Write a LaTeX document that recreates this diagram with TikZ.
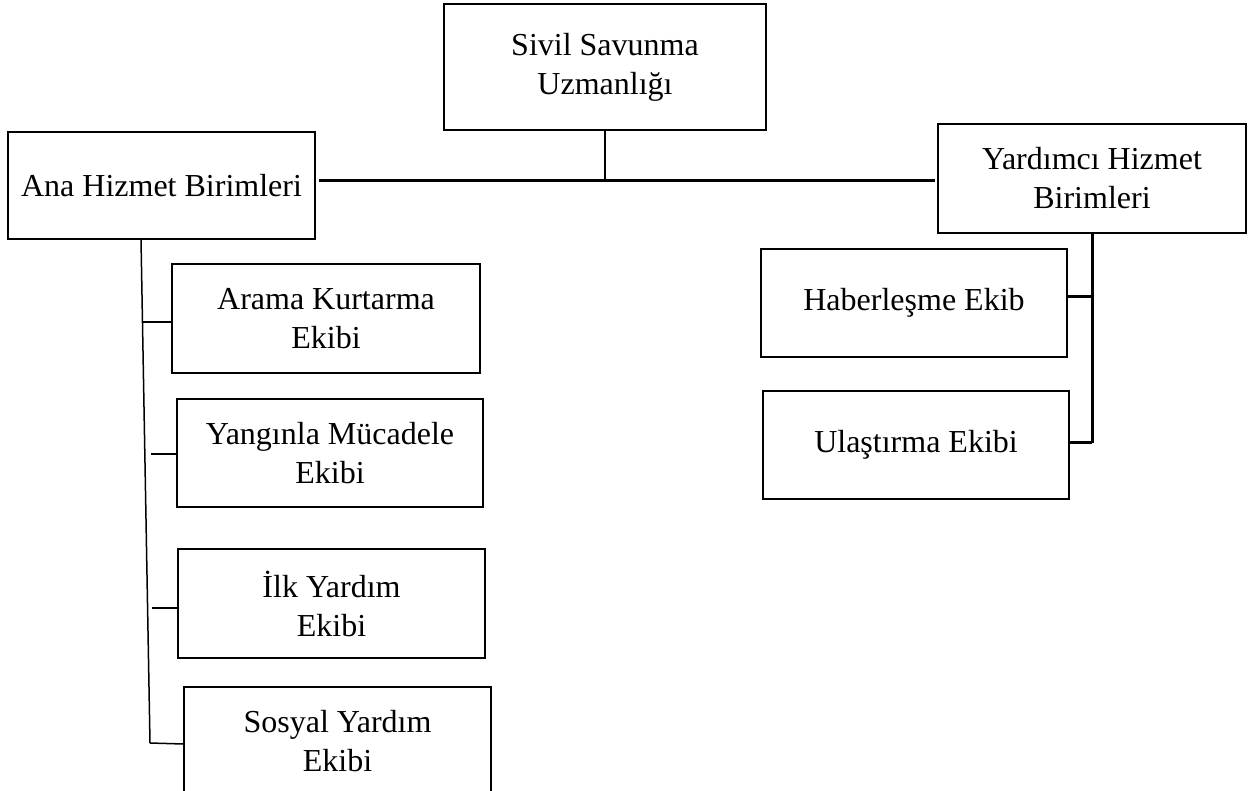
\documentclass[tikz,border=0pt]{standalone}
\usepackage{fontspec}
\setmainfont{Liberation Serif}
\begin{document}
\begin{tikzpicture}[x=1pt,y=-1pt,
  box/.style n args={2}{draw=black, line width=1.8pt, align=center, inner sep=0pt,
    font=\fontsize{32}{39}\selectfont, minimum width=#1pt, minimum height=#2pt},
  thinline/.style={line width=1.5pt},
  midline/.style={line width=2.3pt},
  thickline/.style={line width=3pt}]
\useasboundingbox[fill=white] (0,0) rectangle (1256,791);
% boxes
\node[box={322}{126}] (sivil) at (605,67) {Sivil Savunma\\Uzmanlığı};
\node[box={307}{107}] (ana) at (161.5,185.5) {Ana Hizmet Birimleri};
\node[box={308}{109}] (yard) at (1092,178.5) {Yardımcı Hizmet\\Birimleri};
\node[box={308}{109}] (arama) at (326,318.5) {Arama Kurtarma\\Ekibi};
\node[box={306}{108}] (yangin) at (330,453) {Yangınla Mücadele\\Ekibi};
\node[box={307}{109}] (ilk) at (331.5,603.5) {İlk Yardım\\Ekibi};
\node[box={307}{109}] (sosyal) at (337.5,741.5) {Sosyal Yardım\\Ekibi};
\node[box={306}{108}] (haber) at (914,303) {Haberleşme Ekib};
\node[box={306}{108}] (ulas) at (916,445) {Ulaştırma Ekibi};
% junction coordinates
\coordinate (hl) at (319,181);
\coordinate (hr) at (935,181);
\coordinate (hj) at (605,181);
\coordinate (ltop) at (141,239);
\coordinate (lbot) at (150,743);
\coordinate (la) at (142,322);
\coordinate (ly) at (151,454);
\coordinate (li) at (152,608);
\coordinate (rh) at (1092,297);
\coordinate (rbot) at (1092,443);
% connectors
\draw[thickline] (hl) -- (hr);
\draw[thinline] (sivil.south) -- (hj);
\draw[thinline] (ltop) -- (lbot);
\draw[thinline] (la) -- (la -| arama.west);
\draw[midline] (ly) -- (ly -| yangin.west);
\draw[midline] (li) -- (li -| ilk.west);
\draw[thinline] (lbot) -- ([yshift=-1pt]lbot -| sosyal.west);
\draw[thickline] (yard.south) -- (rbot);
\draw[thickline] (rh) -- (rh -| haber.east);
\draw[thickline] (rbot) -- (rbot -| ulas.east);
\end{tikzpicture}
\end{document}
